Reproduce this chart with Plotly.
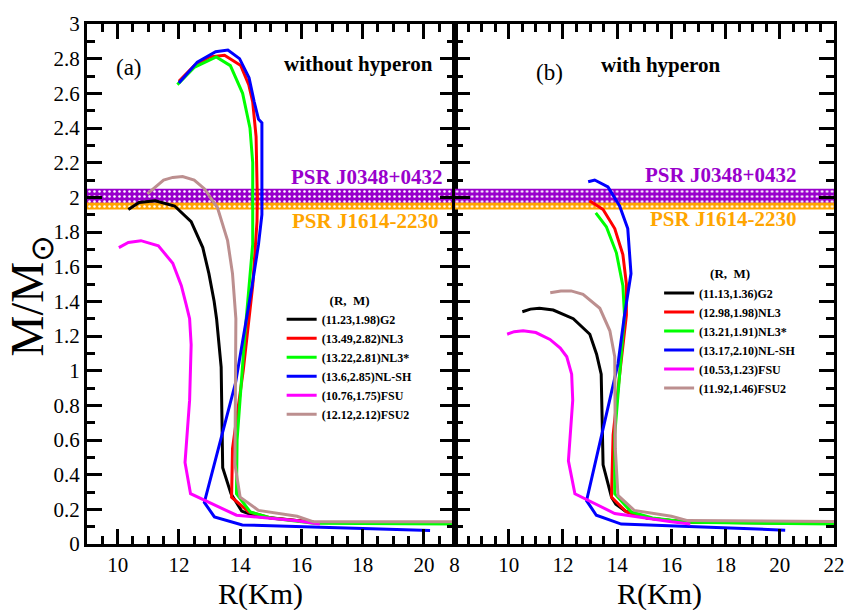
import plotly.graph_objects as go

# ---- panel (a): without hyperons ----
R_G2_a = [10.35, 10.7, 11.23, 11.86, 12.4, 12.78, 12.98, 13.15, 13.23, 13.38, 13.43, 13.7, 14.05, 14.5, 16.4, 21.0]
M_G2_a = [1.93, 1.97, 1.98, 1.95, 1.86, 1.71, 1.56, 1.40, 1.30, 1.02, 0.44, 0.29, 0.19, 0.16, 0.125, 0.12]

R_NL3_a = [12.0, 12.5, 13.0, 13.49, 14.02, 14.28, 14.41, 14.52, 14.56, 14.55, 14.41, 14.1, 13.75, 13.72, 14.28, 15.0, 16.4, 21.0]
M_NL3_a = [2.67, 2.76, 2.81, 2.82, 2.76, 2.65, 2.55, 2.35, 2.0, 1.86, 1.49, 1.0, 0.55, 0.27, 0.185, 0.15, 0.125, 0.12]

R_NL3s_a = [11.95, 12.5, 13.22, 13.68, 14.08, 14.32, 14.41, 14.41, 14.15, 13.9, 13.88, 14.33, 15.0, 16.4, 21.0]
M_NL3s_a = [2.65, 2.75, 2.81, 2.76, 2.6, 2.4, 2.2, 1.73, 1.2, 0.6, 0.29, 0.185, 0.15, 0.12, 0.115]

R_NLSH_a = [12.0, 12.6, 13.2, 13.6, 13.98, 14.29, 14.46, 14.6, 14.71, 14.71, 14.6, 14.39, 13.85, 12.83, 13.16, 14.07, 20.2]
M_NLSH_a = [2.66, 2.78, 2.84, 2.85, 2.80, 2.69, 2.55, 2.45, 2.43, 1.90, 1.73, 1.49, 0.93, 0.24, 0.156, 0.11, 0.078]

R_FSU_a = [10.04, 10.35, 10.76, 11.33, 11.8, 12.08, 12.24, 12.35, 12.4, 12.35, 12.2, 12.38, 13.88, 15.86, 16.6]
M_FSU_a = [1.71, 1.74, 1.75, 1.72, 1.62, 1.49, 1.38, 1.30, 1.15, 0.83, 0.47, 0.29, 0.166, 0.134, 0.115]

R_FSU2_a = [10.97, 11.5, 11.8, 12.12, 12.5, 12.83, 13.26, 13.59, 13.75, 13.83, 13.86, 13.83, 14.0, 14.6, 15.86, 16.4, 21.0]
M_FSU2_a = [2.02, 2.10, 2.115, 2.12, 2.10, 2.05, 1.94, 1.75, 1.56, 1.38, 1.30, 0.46, 0.27, 0.194, 0.16, 0.128, 0.128]

# ---- panel (b): with hyperons ----
R_G2_b = [10.5, 10.8, 11.13, 11.64, 12.38, 12.99, 13.24, 13.41, 13.48, 13.79, 13.95, 14.3, 15.1, 16.6, 22.0]
M_G2_b = [1.34, 1.355, 1.36, 1.35, 1.30, 1.21, 1.095, 0.98, 0.457, 0.27, 0.23, 0.19, 0.15, 0.125, 0.12]

R_NL3_b = [12.98, 13.48, 13.91, 14.21, 14.34, 14.34, 14.07, 13.85, 13.79, 14.34, 15.1, 16.6, 22.0]
M_NL3_b = [1.98, 1.93, 1.82, 1.67, 1.50, 1.32, 0.95, 0.63, 0.27, 0.185, 0.15, 0.125, 0.12]

R_NL3s_b = [13.21, 13.6, 13.97, 14.21, 14.27, 14.15, 13.91, 13.91, 14.52, 15.3, 16.6, 22.0]
M_NL3s_b = [1.91, 1.83, 1.68, 1.49, 1.32, 1.10, 0.63, 0.29, 0.185, 0.15, 0.125, 0.115]

R_NLSH_b = [12.93, 13.17, 13.66, 14.09, 14.39, 14.51, 14.27, 14.03, 12.87, 13.23, 14.15, 20.2]
M_NLSH_b = [2.09, 2.10, 2.06, 1.95, 1.82, 1.56, 1.32, 1.04, 0.25, 0.166, 0.115, 0.08]

R_FSU_b = [9.94, 10.2, 10.53, 11.0, 11.52, 11.9, 12.14, 12.32, 12.36, 12.2, 12.44, 13.91, 16.0, 16.7]
M_FSU_b = [1.21, 1.225, 1.23, 1.22, 1.18, 1.13, 1.08, 0.98, 0.83, 0.48, 0.29, 0.176, 0.128, 0.115]

R_FSU2_b = [11.53, 11.92, 12.3, 12.74, 13.36, 13.73, 13.91, 13.93, 14.03, 14.63, 16.0, 16.6, 22.0]
M_FSU2_b = [1.45, 1.46, 1.46, 1.44, 1.36, 1.23, 1.08, 0.55, 0.28, 0.194, 0.16, 0.135, 0.13]

# legend labels: (R_max, M_max) per parameter set
NAMES_A = ["(11.23,1.98)G2", "(13.49,2.82)NL3", "(13.22,2.81)NL3*",
           "(13.6,2.85)NL-SH", "(10.76,1.75)FSU", "(12.12,2.12)FSU2"]
NAMES_B = ["(11.13,1.36)G2", "(12.98,1.98)NL3", "(13.21,1.91)NL3*",
           "(13.17,2.10)NL-SH", "(10.53,1.23)FSU", "(11.92,1.46)FSU2"]
COLORS = ["#000000", "#ff0000", "#00ff00", "#0000ff", "#ff00ff", "#bc8f8f"]

# pulsar mass constraints (M_sun)
PSR_J0348 = (2.01, 0.04)
PSR_J1614 = (1.97, 0.04)
PURPLE = "#9900cc"
ORANGE = "#ffa500"

X_RANGE_A = [9, 21]
X_RANGE_B = [8, 22]

SERIF = "Liberation Serif"

fig = go.Figure()


def band(xr, center, err, color, xa, ya):
    lo, hi = center - err, center + err
    fig.add_trace(go.Scatter(
        x=[xr[0], xr[1], xr[1], xr[0], xr[0]], y=[lo, lo, hi, hi, lo],
        mode="lines", fill="toself", line=dict(width=0, color=color),
        fillcolor=color,
        fillpattern=dict(shape=".", size=5, solidity=0.2, fgcolor="white",
                         bgcolor=color, fillmode="replace"),
        xaxis=xa, yaxis=ya, showlegend=False, hoverinfo="skip"))


for xr, xa, ya in [(X_RANGE_A, "x", "y"), (X_RANGE_B, "x2", "y2")]:
    band(xr, PSR_J1614[0], PSR_J1614[1], ORANGE, xa, ya)
    band(xr, PSR_J0348[0], PSR_J0348[1], PURPLE, xa, ya)

curves_a = [(R_G2_a, M_G2_a), (R_NL3_a, M_NL3_a), (R_NL3s_a, M_NL3s_a),
            (R_NLSH_a, M_NLSH_a), (R_FSU_a, M_FSU_a), (R_FSU2_a, M_FSU2_a)]
curves_b = [(R_G2_b, M_G2_b), (R_NL3_b, M_NL3_b), (R_NL3s_b, M_NL3s_b),
            (R_NLSH_b, M_NLSH_b), (R_FSU_b, M_FSU_b), (R_FSU2_b, M_FSU2_b)]

for (r, m), name, col in zip(curves_a, NAMES_A, COLORS):
    fig.add_trace(go.Scatter(x=r, y=m, mode="lines", name="<b>" + name + "</b>",
                             line=dict(color=col, width=3),
                             xaxis="x", yaxis="y", legend="legend"))
for (r, m), name, col in zip(curves_b, NAMES_B, COLORS):
    fig.add_trace(go.Scatter(x=r, y=m, mode="lines", name="<b>" + name + "</b>",
                             line=dict(color=col, width=3),
                             xaxis="x2", yaxis="y2", legend="legend2"))

ML, MR, MT, MB = 87, 14, 12, 66
W, H = 857, 610
PW, PH = W - ML - MR, H - MT - MB
SPLIT = (459 - ML) / PW


def px(xp):
    return (xp - ML) / PW


def py(yp):
    return (H - MB - yp) / PH


axis_common = dict(
    showline=True, linewidth=3, linecolor="black", mirror="allticks",
    ticks="inside", ticklen=15, tickwidth=2.5, tickcolor="black",
    showgrid=False, zeroline=False,
    tickfont=dict(family=SERIF, size=21, color="black"),
)

xa_common = dict(axis_common, dtick=2, tick0=0,
                 minor=dict(ticks="inside", dtick=0.5, ticklen=8,
                            tickwidth=2.5, tickcolor="black", showgrid=False))
ya_common = dict(axis_common, range=[0, 3], dtick=0.2, tick0=0,
                 minor=dict(ticks="inside", dtick=0.1, ticklen=8,
                            tickwidth=2.5, tickcolor="black", showgrid=False))

legend_common = dict(
    bgcolor="rgba(0,0,0,0)", borderwidth=0,
    font=dict(family=SERIF, size=12, color="black"),
    xanchor="left", yanchor="top", itemwidth=30, tracegroupgap=0,
)

ann = []


def text(x, y, s, size, color="black"):
    ann.append(dict(x=px(x), y=py(y), xref="paper", yref="paper", text=s,
                    showarrow=False, xanchor="center", yanchor="middle",
                    font=dict(family=SERIF, size=size, color=color)))


text(130, 57, "(a)", 23)
text(362, 53, "<b>without hyperon</b>", 21)
text(555, 62, "(b)", 23)
text(668, 54, "<b>with hyperon</b>", 21)
text(370, 169, "<b>PSR J0348+0432</b>", 21, PURPLE)
text(728, 166, "<b>PSR J0348+0432</b>", 21, PURPLE)
text(368, 214, "<b>PSR J1614-2230</b>", 21, ORANGE)
text(731, 212, "<b>PSR J1614-2230</b>", 21, ORANGE)
text(263, 595, "R(Km)", 30)
text(666, 595, "R(Km)", 30)
ann.append(dict(x=px(30), y=py(290), xref="paper", yref="paper",
                text="M/M<sub>⊙</sub>", textangle=-90, showarrow=False,
                xanchor="center", yanchor="middle",
                font=dict(family=SERIF, size=46, color="black")))

fig.update_layout(
    width=W, height=H,
    margin=dict(l=ML, r=MR, t=MT, b=MB),
    paper_bgcolor="white", plot_bgcolor="white",
    xaxis=dict(xa_common, domain=[0, SPLIT], range=X_RANGE_A, anchor="y"),
    xaxis2=dict(xa_common, domain=[SPLIT, 1], range=X_RANGE_B, anchor="y2"),
    yaxis=dict(ya_common, anchor="x"),
    yaxis2=dict(ya_common, anchor="x2", matches="y", showticklabels=False),
    legend=dict(legend_common, x=px(284), y=py(282),
                title=dict(text="<b>(R,\u00a0\u00a0M)</b>", side="top center",
                           font=dict(family=SERIF, size=13))),
    legend2=dict(legend_common, x=px(666), y=py(255),
                 title=dict(text="<b>(R,\u00a0\u00a0M)</b>", side="top center",
                            font=dict(family=SERIF, size=13))),
    annotations=ann,
    showlegend=True,
)

fig.write_html("out.html")
